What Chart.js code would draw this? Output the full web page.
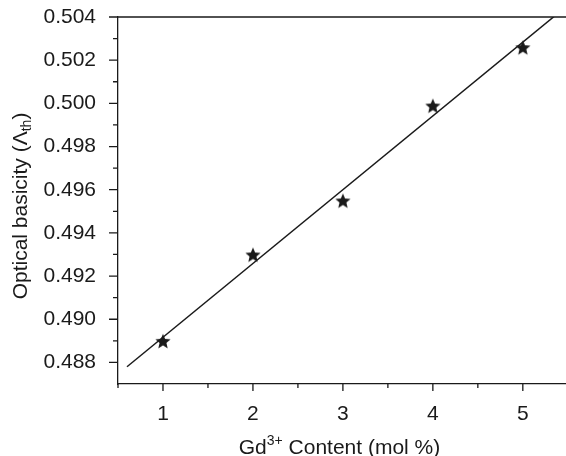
<!DOCTYPE html>
<html>
<head>
<meta charset="utf-8">
<script src="https://cdn.jsdelivr.net/npm/chart.js@4/dist/chart.umd.min.js"></script>
<style>
  html, body { margin: 0; padding: 0; background: #fff; }
</style>
</head>
<body>
<canvas id="chart" width="566" height="456"></canvas>
<script>
// measured points
const gdContent = [1, 2, 3, 4, 5];
const basicity = [0.4890, 0.4930, 0.4955, 0.4999, 0.5026];

// linear fit, end points
const fitX = [0.6, 5.37];
const fitY = [0.4878, 0.5041];

// axis ticks
const xTicks = [1, 2, 3, 4, 5];
const xMinor = [0.5, 1.5, 2.5, 3.5, 4.5];
const yTicks = [0.488, 0.490, 0.492, 0.494, 0.496, 0.498, 0.500, 0.502, 0.504];
const yMinor = [0.489, 0.491, 0.493, 0.495, 0.497, 0.499, 0.501, 0.503];

const INK = '#1a1a1a';
const FONT = '"Liberation Sans", Arial, Helvetica, sans-serif';

function starImage(r) {
  const c = document.createElement('canvas');
  const s = Math.ceil(r * 2 + 2);
  c.width = c.height = s;
  const g = c.getContext('2d');
  g.fillStyle = INK;
  g.beginPath();
  for (let i = 0; i < 10; i++) {
    const a = -Math.PI / 2 + i * Math.PI / 5;
    const rr = i % 2 ? r * 0.45 : r;
    g.lineTo(s / 2 + rr * Math.cos(a), s / 2 + 1 + rr * Math.sin(a));
  }
  g.closePath();
  g.fill();
  return c;
}

// text with super/subscripts: parts = [[text, size, dy]]
function richText(ctx, parts, x, y) {
  let w = 0;
  parts.forEach(p => { ctx.font = p[1] + 'px ' + FONT; w += ctx.measureText(p[0]).width; });
  let cx = x - w / 2;
  parts.forEach(p => {
    ctx.font = p[1] + 'px ' + FONT;
    ctx.fillText(p[0], cx, y + p[2]);
    cx += ctx.measureText(p[0]).width;
  });
}

const decor = {
  id: 'decor',
  afterDraw(chart) {
    const ctx = chart.ctx;
    const a = chart.chartArea;
    const xs = chart.scales.x, ys = chart.scales.y;
    ctx.save();
    ctx.strokeStyle = INK;
    ctx.lineWidth = 1.3;
    ctx.beginPath();
    ctx.moveTo(a.left, a.top);
    ctx.lineTo(chart.width, a.top);
    xTicks.forEach(v => { const p = xs.getPixelForValue(v); ctx.moveTo(p, a.bottom); ctx.lineTo(p, a.bottom + 7); });
    xMinor.forEach(v => { const p = xs.getPixelForValue(v); ctx.moveTo(p, a.bottom); ctx.lineTo(p, a.bottom + 4); });
    yTicks.forEach(v => { const p = ys.getPixelForValue(v); ctx.moveTo(a.left, p); ctx.lineTo(a.left - 9, p); });
    yMinor.forEach(v => { const p = ys.getPixelForValue(v); ctx.moveTo(a.left, p); ctx.lineTo(a.left - 5, p); });
    ctx.stroke();

    ctx.fillStyle = INK;
    ctx.textBaseline = 'alphabetic';
    ctx.textAlign = 'left';
    richText(ctx, [['Gd', 21, 0], ['3+', 14, -9], [' Content (mol %)', 21, 0]], 339.5, 454);
    ctx.translate(27, 206);
    ctx.rotate(-Math.PI / 2);
    richText(ctx, [['Optical basicity (\u039B', 21, 0], ['th', 14, 4], [')', 21, 0]], 0, 0);
    ctx.restore();
  }
};

new Chart(document.getElementById('chart'), {
  type: 'scatter',
  data: {
    datasets: [
      {
        data: fitX.map((x, i) => ({ x: x, y: fitY[i] })),
        showLine: true,
        borderColor: INK,
        borderWidth: 1.5,
        pointRadius: 0
      },
      {
        data: gdContent.map((x, i) => ({ x: x, y: basicity[i] })),
        showLine: false,
        pointStyle: starImage(8),
        pointRadius: 8
      }
    ]
  },
  options: {
    responsive: false,
    animation: false,
    devicePixelRatio: 1,
    layout: { autoPadding: false, padding: { top: 17, right: 0, left: 0, bottom: 0 } },
    plugins: { legend: { display: false }, tooltip: { enabled: false } },
    scales: {
      x: {
        type: 'linear',
        min: 0.5,
        max: 5.48,
        afterBuildTicks: s => { s.ticks = xTicks.map(v => ({ value: v })); },
        afterFit: s => { s.height = 72; s.paddingLeft = 0; s.paddingRight = 0; },
        grid: { display: false, drawTicks: false },
        border: { display: true, color: INK, width: 1.3 },
        ticks: { padding: 18, color: INK, font: { family: FONT, size: 21 } }
      },
      y: {
        min: 0.487,
        max: 0.504,
        afterBuildTicks: s => { s.ticks = yTicks.map(v => ({ value: v })); },
        afterFit: s => { s.width = 118; s.paddingTop = 0; s.paddingBottom = 0; },
        grid: { display: false, drawTicks: false },
        border: { display: true, color: INK, width: 1.3 },
        ticks: { padding: 22, color: INK, font: { family: FONT, size: 21 }, callback: v => v.toFixed(3) }
      }
    }
  },
  plugins: [decor]
});
</script>
</body>
</html>
